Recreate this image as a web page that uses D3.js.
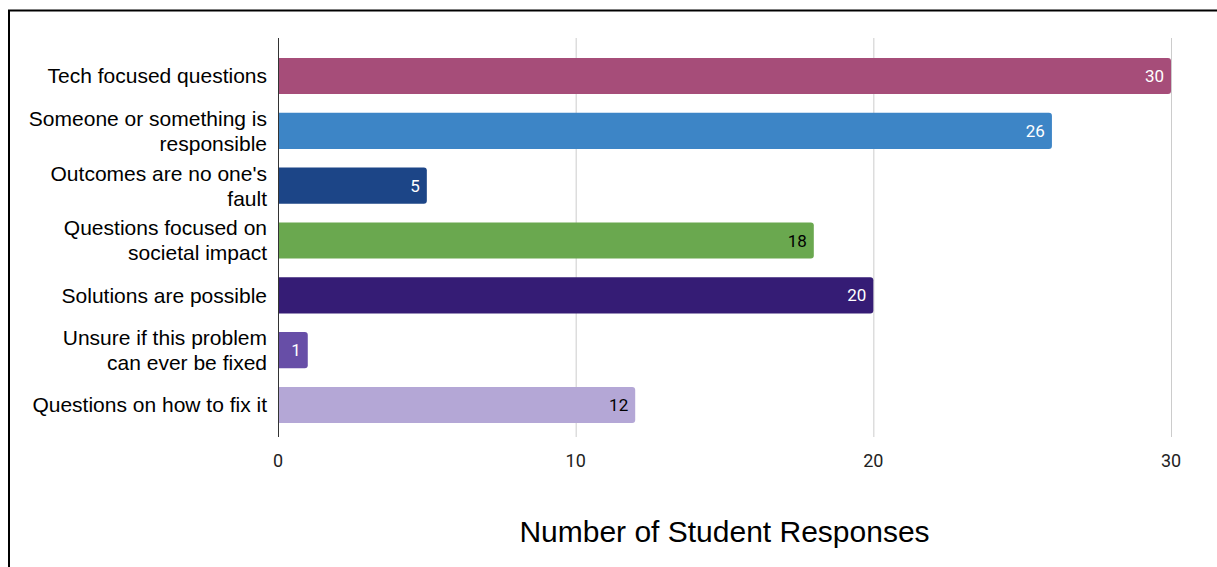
<!DOCTYPE html>
<html>
<head>
<meta charset="utf-8">
<script src="https://cdn.jsdelivr.net/npm/d3@7"></script>
<style>
  body { margin: 0; background: #fff; }
  svg { display: block; }
</style>
</head>
<body>
<div id="chart"></div>
<script>
const categories = [
    ["Tech focused questions"],
    ["Someone or something is", "responsible"],
    ["Outcomes are no one's", "fault"],
    ["Questions focused on", "societal impact"],
    ["Solutions are possible"],
    ["Unsure if this problem", "can ever be fixed"],
    ["Questions on how to fix it"]
];
const responses = [30, 26, 5, 18, 20, 1, 12];
const barColors = ["#a64d79", "#3d85c6", "#1c4587", "#6aa84f", "#351c75", "#674ea7", "#b4a7d6"];
const labelColors = ["#fff", "#fff", "#fff", "#000", "#fff", "#fff", "#000"];
const xTicks = [0, 10, 20, 30];

const W = 1217, H = 567;

const svg = d3.select("#chart")
    .append("svg")
    .attr("width", W)
    .attr("height", H);

// frame (top and left edges visible)
svg.append("line").attr("x1", 8).attr("x2", W).attr("y1", 10.5).attr("y2", 10.5)
    .attr("stroke", "#000").attr("stroke-width", 2);
svg.append("line").attr("x1", 9).attr("x2", 9).attr("y1", 10).attr("y2", H)
    .attr("stroke", "#000").attr("stroke-width", 2);

const x = d3.scaleLinear().domain([0, 30]).range([278, 1171]);
const y = d3.scaleBand()
    .domain(d3.range(categories.length))
    .range([48.6, 432.4])
    .paddingInner(0.34)
    .paddingOuter(0.17);

const plotTop = 38, plotBottom = 437;

// gridlines
svg.append("g")
    .selectAll("line")
    .data(xTicks.slice(1))
    .join("line")
    .attr("x1", d => x(d) + 0.5)
    .attr("x2", d => x(d) + 0.5)
    .attr("y1", plotTop)
    .attr("y2", plotBottom)
    .attr("stroke", "#cccccc")
    .attr("stroke-width", 1);

// tick labels
svg.append("g")
    .selectAll("text")
    .data(xTicks)
    .join("text")
    .attr("x", d => x(d))
    .attr("y", 461)
    .attr("dy", "0.35em")
    .attr("text-anchor", "middle")
    .style("font-family", "Roboto, sans-serif")
    .style("font-size", "18px")
    .attr("fill", "#222")
    .text(d => d);

// bars with rounded right ends
const r = 3;
svg.append("g")
    .selectAll("path")
    .data(responses)
    .join("path")
    .attr("fill", (d, i) => barColors[i])
    .attr("d", (d, i) => {
        const x0 = x(0), x1 = x(d), y0 = y(i), h = y.bandwidth();
        return `M${x0},${y0}H${x1 - r}Q${x1},${y0} ${x1},${y0 + r}V${y0 + h - r}Q${x1},${y0 + h} ${x1 - r},${y0 + h}H${x0}Z`;
    });

// value labels
svg.append("g")
    .selectAll("text")
    .data(responses)
    .join("text")
    .attr("x", d => x(d) - 7)
    .attr("y", (d, i) => y(i) + y.bandwidth() / 2)
    .attr("dy", "0.36em")
    .attr("text-anchor", "end")
    .style("font-family", "Roboto, sans-serif")
    .style("font-size", "17px")
    .attr("fill", (d, i) => labelColors[i])
    .text(d => d);

// category labels
const lineH = 25;
const cat = svg.append("g")
    .selectAll("text")
    .data(categories)
    .join("text")
    .attr("text-anchor", "end")
    .style("font-family", "'Liberation Sans', Arial, sans-serif")
    .style("font-size", "21px")
    .attr("fill", "#000");

cat.each(function(lines, i) {
    const cy = y(i) + y.bandwidth() / 2;
    const start = cy - (lines.length - 1) * lineH / 2;
    d3.select(this).selectAll("tspan")
        .data(lines)
        .join("tspan")
        .attr("x", 267)
        .attr("y", (l, j) => start + j * lineH)
        .attr("dy", "0.35em")
        .text(l => l);
});

// y axis line
svg.append("line")
    .attr("x1", x(0) + 0.5).attr("x2", x(0) + 0.5)
    .attr("y1", plotTop).attr("y2", plotBottom)
    .attr("stroke", "#333").attr("stroke-width", 1);

// x-axis title
svg.append("text")
    .attr("x", (x(0) + x(30)) / 2)
    .attr("y", 531)
    .attr("dy", "0.35em")
    .attr("text-anchor", "middle")
    .style("font-family", "'Liberation Sans', Arial, sans-serif")
    .style("font-size", "30px")
    .attr("fill", "#000")
    .text("Number of Student Responses");
</script>
</body>
</html>
